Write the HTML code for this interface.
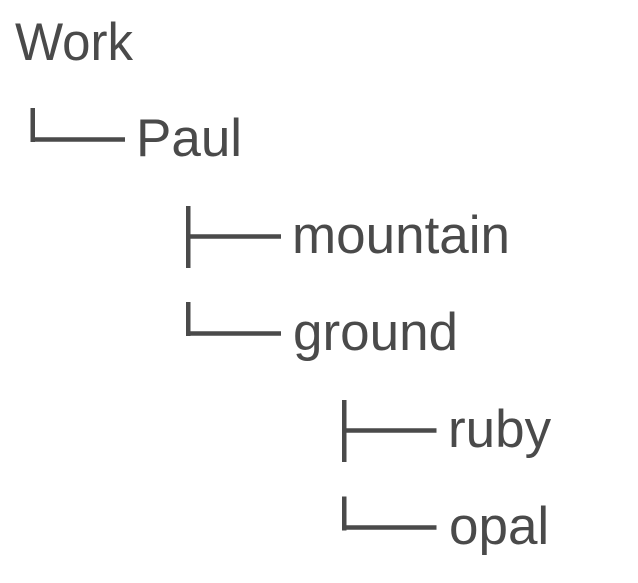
<!DOCTYPE html>
<html>
<head>
<meta charset="utf-8">
<style>
  html, body { margin: 0; padding: 0; background: #ffffff; }
  body { width: 638px; height: 583px; overflow: hidden; }
  svg { display: block; }
  text { font-family: "Liberation Sans", Arial, sans-serif; font-size: 53px; fill: #4a4a4a; }
</style>
</head>
<body>
<svg width="638" height="583" viewBox="0 0 638 583" xmlns="http://www.w3.org/2000/svg">
  <rect x="0" y="0" width="638" height="583" fill="#ffffff"/>
  <g fill="#4a4a4a">
    <!-- Paul └── -->
    <rect x="30.5" y="108" width="4.5" height="34"/>
    <rect x="30.5" y="137.25" width="94.5" height="4.5"/>
    <!-- mountain ├── -->
    <rect x="186" y="206" width="4.5" height="62"/>
    <rect x="186" y="234.25" width="95" height="4.5"/>
    <!-- ground └── -->
    <rect x="186" y="302" width="4.5" height="34"/>
    <rect x="186" y="331.25" width="95" height="4.5"/>
    <!-- ruby ├── -->
    <rect x="342" y="400" width="4.5" height="62"/>
    <rect x="342" y="428.25" width="94.5" height="4.5"/>
    <!-- opal └── -->
    <rect x="342" y="496.5" width="4.5" height="34"/>
    <rect x="342" y="525.25" width="94.5" height="4.5"/>
  </g>
  <text x="15" y="60" textLength="118" lengthAdjust="spacingAndGlyphs">Work</text>
  <text x="136" y="156">Paul</text>
  <text x="292" y="253">mountain</text>
  <text x="293" y="350">ground</text>
  <text x="448" y="447">ruby</text>
  <text x="449" y="544">opal</text>
</svg>
</body>
</html>
